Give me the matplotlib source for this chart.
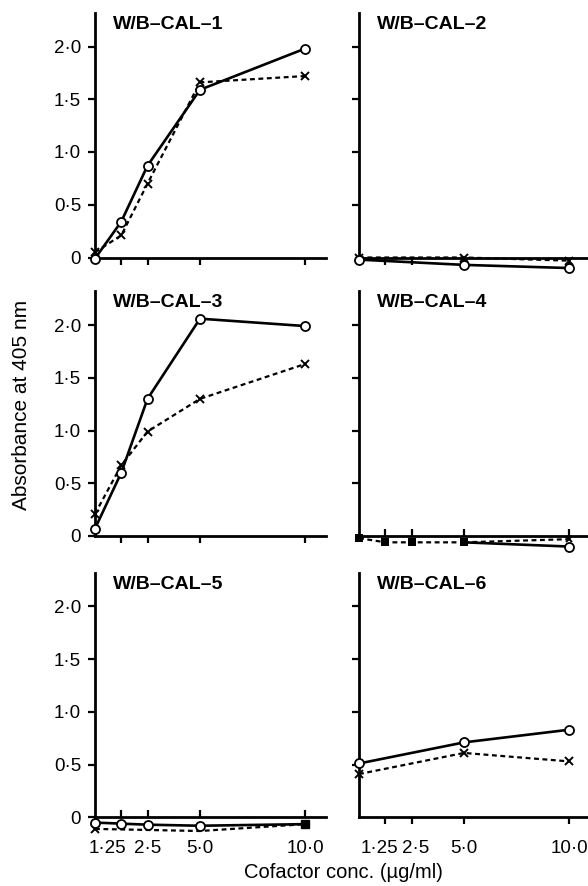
import matplotlib
matplotlib.use('Agg')
import matplotlib.pyplot as plt
import matplotlib.transforms as mtrans

plt.rcParams['font.family'] = ['Liberation Sans', 'DejaVu Sans']

# x positions (cofactor conc., ug/ml)
conc = [0, 1.25, 2.5, 5.0, 10.0]
conc3 = [0, 5.0, 10.0]
conc4 = [0, 1.25, 2.5, 5.0]
conc_tail = [5.0, 10.0]

# absorbance at 405 nm
cal1_open = [-0.01, 0.34, 0.87, 1.59, 1.98]
cal1_cross = [0.05, 0.21, 0.70, 1.66, 1.72]

cal2_open = [-0.02, -0.07, -0.10]
cal2_cross = [0.0, 0.0, -0.03]

cal3_open = [0.07, 0.60, 1.30, 2.06, 1.99]
cal3_cross = [0.21, 0.67, 0.99, 1.30, 1.63]

cal4_square = [-0.02, -0.06, -0.06, -0.06]
cal4_open = [-0.06, -0.10]
cal4_cross = [-0.06, -0.03]

cal5_open = [-0.05, -0.06, -0.07, -0.08, -0.065]
cal5_cross = [-0.11, -0.13, -0.065]

cal6_open = [0.51, 0.71, 0.83]
cal6_cross = [0.41, 0.61, 0.53]

titles = ['W/B\u2013CAL\u20131', 'W/B\u2013CAL\u20132', 'W/B\u2013CAL\u20133',
          'W/B\u2013CAL\u20134', 'W/B\u2013CAL\u20135', 'W/B\u2013CAL\u20136']
yticks = [0, 0.5, 1.0, 1.5, 2.0]
ytick_labels = ['0', '0\u00b75', '1\u00b70', '1\u00b75', '2\u00b70']
xticks = [1.25, 2.5, 5.0, 10.0]
xtick_labels = ['1\u00b725', '2\u00b75', '5\u00b70', '10\u00b70']

W, H = 588, 886
fig = plt.figure(figsize=(W / 100, H / 100), dpi=100)

ymin, ymax = -0.18, 2.32
ppu_y = 105.5
zero_rows = [257.5, 536, 817.3]
col_left = [95, 359]
col_width = [231, 229]
ppu_x = 21.0

axes = []
for r in range(3):
    for c in range(2):
        top = zero_rows[r] - ymax * ppu_y
        bot = zero_rows[r] - ymin * ppu_y
        ax = fig.add_axes([col_left[c] / W, (H - bot) / H,
                           col_width[c] / W, (bot - top) / H])
        ax.set_xlim(0, col_width[c] / ppu_x)
        ax.set_ylim(ymin, ymax)
        for s in ['top', 'right']:
            ax.spines[s].set_visible(False)
        ax.spines['bottom'].set_position(('data', 0))
        ax.spines['left'].set_bounds(0, ymax)
        for s in ['left', 'bottom']:
            ax.spines[s].set_linewidth(2.0)
        ax.set_yticks(yticks[1:] if c == 1 else yticks)
        if c == 0:
            ax.set_yticklabels(ytick_labels, fontsize=13.5)
        else:
            ax.set_yticklabels([])
        ax.set_xticks(xticks)
        if r == 2:
            ax.set_xticklabels(xtick_labels, fontsize=13.5)
        else:
            ax.set_xticklabels([])
        xdir = 'in' if (r, c) in [(1, 1), (2, 0)] else 'out'
        ax.tick_params(axis='x', direction=xdir, length=5, width=1.6,
                       pad=16 if xdir == 'in' else 11)
        ax.tick_params(axis='y', direction='out', length=5, width=1.6, pad=5)
        ax.text(18 / col_width[c], 1 - 3 / (bot - top), titles[2 * r + c],
                transform=ax.transAxes, ha='left', va='top',
                fontsize=14, fontweight='bold')
        ax.patch.set_visible(False)
        axes.append(ax)

solid = dict(color='black', lw=1.9, ls='-', marker='o', ms=6.5, mfc='white',
             mec='black', mew=1.3, clip_on=False, zorder=4)
dashed = dict(color='black', lw=1.6, ls=(0, (2.2, 1.6)), marker='x', ms=6,
              mew=1.4, clip_on=False, zorder=3)

# CAL-1
axes[0].plot(conc, cal1_cross, **dashed)
axes[0].plot(conc, cal1_open, **solid)
# CAL-2
axes[1].plot(conc3, cal2_cross, **dashed)
axes[1].plot(conc3, cal2_open, **solid)
# CAL-3
axes[2].plot(conc, cal3_cross, **dashed)
axes[2].plot(conc, cal3_open, **solid)
# CAL-4
sq = dict(dashed, marker='s', ms=5.5, mfc='black', mew=0)
axes[3].plot(conc4, cal4_square, **sq)
axes[3].plot(conc_tail, cal4_cross, **dict(dashed, ms=5))
axes[3].plot(conc_tail, cal4_open, **dict(solid, markevery=[1]))
# CAL-5
axes[4].plot(conc3, cal5_cross, **dict(dashed, markevery=[0]))
axes[4].plot(conc, cal5_open, **dict(solid, markevery=[0, 1, 2, 3]))
axes[4].plot(conc[-1:], cal5_open[-1:], marker='s', ms=5.5, color='black',
             ls='none', clip_on=False, zorder=5)
# CAL-6
axes[5].plot(conc3, cal6_cross, **dashed)
axes[5].plot(conc3, cal6_open, **solid)


def nudge(ax, i, dx):
    lab = ax.get_xticklabels()[i]
    lab.set_transform(lab.get_transform() +
                      mtrans.ScaledTranslation(dx / 100, 0, fig.dpi_scale_trans))


# crowded 1.25 / 2.5 labels
nudge(axes[4], 0, -14)
nudge(axes[5], 0, -6)
nudge(axes[5], 1, 4)

fig.text(22 / W, 1 - 405 / H, 'Absorbance at 405 nm', rotation=90,
         ha='center', va='center', fontsize=15)
fig.text(343 / W, 1 - 872 / H, 'Cofactor conc. (\u00b5g/ml)',
         ha='center', va='center', fontsize=14.5)

fig.savefig('out.png', dpi=100)
